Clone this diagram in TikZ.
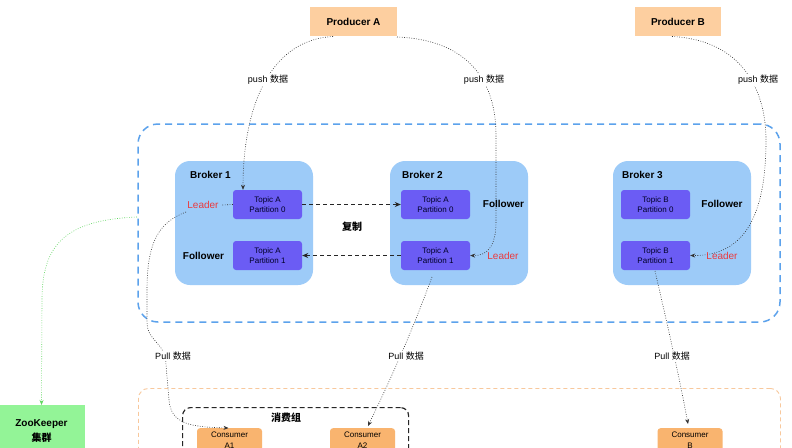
\documentclass[tikz,border=0pt]{standalone}
\usepackage{fontspec}
\setmainfont{Liberation Sans}
\newfontfamily\cjk{Noto Sans CJK SC}
\usetikzlibrary{arrows.meta}
\definecolor{prodfill}{HTML}{FDCFA0}
\definecolor{brokerfill}{HTML}{9DCBF8}
\definecolor{partfill}{HTML}{6B5CF4}
\definecolor{leaderred}{HTML}{EA3A3F}
\definecolor{clusterblue}{HTML}{5CA2EC}
\definecolor{consfill}{HTML}{F9B46F}
\definecolor{zkfill}{HTML}{93F497}
\definecolor{orangedash}{HTML}{F8C89C}
\definecolor{zkgreen}{HTML}{5ED65E}
\begin{document}
\begin{tikzpicture}[x=1pt,y=-1pt,
  prodbox/.style={draw=none,fill=prodfill,minimum width=87pt,minimum height=29pt,font=\bfseries\fontsize{10}{12}\selectfont,inner sep=0pt},
  brokerbox/.style={draw=none,fill=brokerfill,rounded corners=15pt,minimum width=138pt,minimum height=124pt,inner sep=0pt},
  partbox/.style={draw=none,fill=partfill,rounded corners=3pt,minimum width=69pt,minimum height=29pt,inner sep=0pt,align=center,font=\fontsize{8}{9.5}\selectfont,text=black!85!blue},
  consbox/.style={draw=none,fill=consfill,rounded corners=3pt,minimum width=65pt,minimum height=24pt,inner sep=0pt,align=center,font=\fontsize{8}{11.5}\selectfont,anchor=north},
  brokerlbl/.style={font=\bfseries\fontsize{10}{12}\selectfont,anchor=west,inner sep=0pt},
  rolelbl/.style={font=\bfseries\fontsize{10}{12}\selectfont,inner sep=0pt},
  leaderlbl/.style={font=\fontsize{10}{12}\selectfont,text=leaderred,inner sep=0pt},
  edgelbl/.style={font=\fontsize{9}{11}\selectfont,fill=white,inner sep=1pt},
  dotline/.style={draw=black!80,line width=0.6pt,dash pattern=on 0.8pt off 1.6pt},
  dotarrow/.style={dotline,-{Stealth[length=5pt,width=4pt]}},
  reparrow/.style={draw=black!85,line width=1.2pt,dash pattern=on 4pt off 3pt,-{Stealth[length=6pt,width=5pt]}}
]
\clip (0,0) rectangle (792,447);
\fill[white] (0,0) rectangle (792,447);

% containers
\node[draw=clusterblue,line width=1.5pt,dash pattern=on 7pt off 5pt,rounded corners=20pt,minimum width=642pt,minimum height=198pt,inner sep=0pt] (cluster) at (459,223) {};
\node[draw=orangedash,line width=0.9pt,dash pattern=on 4pt off 3pt,rounded corners=10pt,minimum width=642pt,minimum height=100pt,inner sep=0pt,anchor=north west] (consarea) at (138,388) {};
\node[draw=black!85,line width=1.2pt,dash pattern=on 5pt off 3pt,rounded corners=8pt,minimum width=226pt,minimum height=80pt,inner sep=0pt,anchor=north west] (group) at (182,407) {};
\node[font=\cjk\bfseries\fontsize{10}{12}\selectfont,inner sep=0pt] (grouplbl) at (286,418) {消费组};

% producers
\node[prodbox] (pa) at (353.5,21.5) {Producer A};
\node[prodbox,minimum width=86pt] (pb) at (678,21.5) {Producer B};

% brokers
\node[brokerbox] (b1) at (244,223) {};
\node[brokerbox] (b2) at (459,223) {};
\node[brokerbox] (b3) at (682,223) {};
\node[brokerlbl] (b1l) at (190,175) {Broker 1};
\node[brokerlbl] (b2l) at (402,175) {Broker 2};
\node[brokerlbl] (b3l) at (622,175) {Broker 3};

% partitions
\node[partbox] (b1p0) at (267.5,204.5) {Topic A\\Partition 0};
\node[partbox] (b1p1) at (267.5,255.5) {Topic A\\Partition 1};
\node[partbox] (b2p0) at (435.5,204.5) {Topic A\\Partition 0};
\node[partbox] (b2p1) at (435.5,255.5) {Topic A\\Partition 1};
\node[partbox] (b3p0) at (655.5,204.5) {Topic B\\Partition 0};
\node[partbox] (b3p1) at (655.5,255.5) {Topic B\\Partition 1};

% roles
\node[leaderlbl] (l1) at (203,205) {Leader};
\node[rolelbl] (f1) at (203.5,256) {Follower};
\node[rolelbl] (f2) at (503.5,204) {Follower};
\node[rolelbl] (f3) at (722,204) {Follower};

% consumers and zookeeper
\node[consbox] (ca1) at (229.5,428) {Consumer\\A1};
\node[consbox] (ca2) at (362.5,428) {Consumer\\A2};
\node[consbox] (cb) at (690,428) {Consumer\\B};
\node[draw=none,fill=zkfill,minimum width=87pt,minimum height=52pt,inner sep=0pt,anchor=north,align=center,font=\bfseries\fontsize{10}{14.5}\selectfont] (zk) at (41.5,405) {ZooKeeper\\{\cjk 集群}};

% replication
\draw[reparrow] (b1p0.east) -- (b2p0.west);
\draw[reparrow] (b2p1.west) -- (b1p1.east);
\node[font=\cjk\bfseries\fontsize{10}{12}\selectfont,inner sep=0pt] (rep) at (352,227) {复制};

% push arrows
\coordinate (pa1s) at (333,36.5);
\coordinate (pa2s) at (397,37);
\coordinate (pbs) at (672,36.5);
\draw[dotarrow] (pa1s) .. controls (268,40) and (243,110) .. ([xshift=-24.5pt]b1p0.north);
\draw[dotarrow] (pa2s) .. controls (472,40) and (496,85) .. (496,135) -- (496,222) .. controls (496,245) and (488,256) .. (b2p1.east);
\draw[dotarrow] (pbs) .. controls (742,40) and (766,90) .. (766,140) .. controls (766,215) and (745,256) .. (b3p1.east);
\node[edgelbl] (push1) at (268,80) {push {\cjk 数据}};
\node[edgelbl] (push2) at (484,80) {push {\cjk 数据}};
\node[edgelbl] (push3) at (758,80) {push {\cjk 数据}};

% leader labels drawn over lines
\node[leaderlbl] (l2) at (503,256) {Leader};
\node[leaderlbl] (l3) at (722,256) {Leader};

% pull arrows
\coordinate (p1a) at (222,205);
\coordinate (p1b) at (186,212);
\coordinate (p2s) at (432,277);
\coordinate (p3s) at (655,271);
\draw[dotline] (b1p0.west) -- (p1a);
\draw[dotarrow] (p1b) .. controls (160,222) and (147,240) .. (147,290) -- (147,322) .. controls (147,342) and (166,342) .. (166,365) -- (169,400) .. controls (171,424) and (190,427) .. ([xshift=-1pt]ca1.north);
\draw[dotarrow] (p2s) .. controls (418,315) and (400,360) .. (368,426);
\draw[dotarrow] (p3s) .. controls (664,310) and (678,370) .. (688,424);
\node[edgelbl] (pull1) at (173,356) {Pull {\cjk 数据}};
\node[edgelbl] (pull2) at (406,356) {Pull {\cjk 数据}};
\node[edgelbl] (pull3) at (672,356) {Pull {\cjk 数据}};

% zookeeper link
\coordinate (zks) at (137,217);
\draw[draw=zkgreen,line width=0.6pt,dash pattern=on 0.8pt off 1.6pt,-{Stealth[length=5pt,width=4pt]}] (zks) .. controls (65,220) and (42,245) .. (42,300) -- (zk.north);
\end{tikzpicture}
\end{document}
